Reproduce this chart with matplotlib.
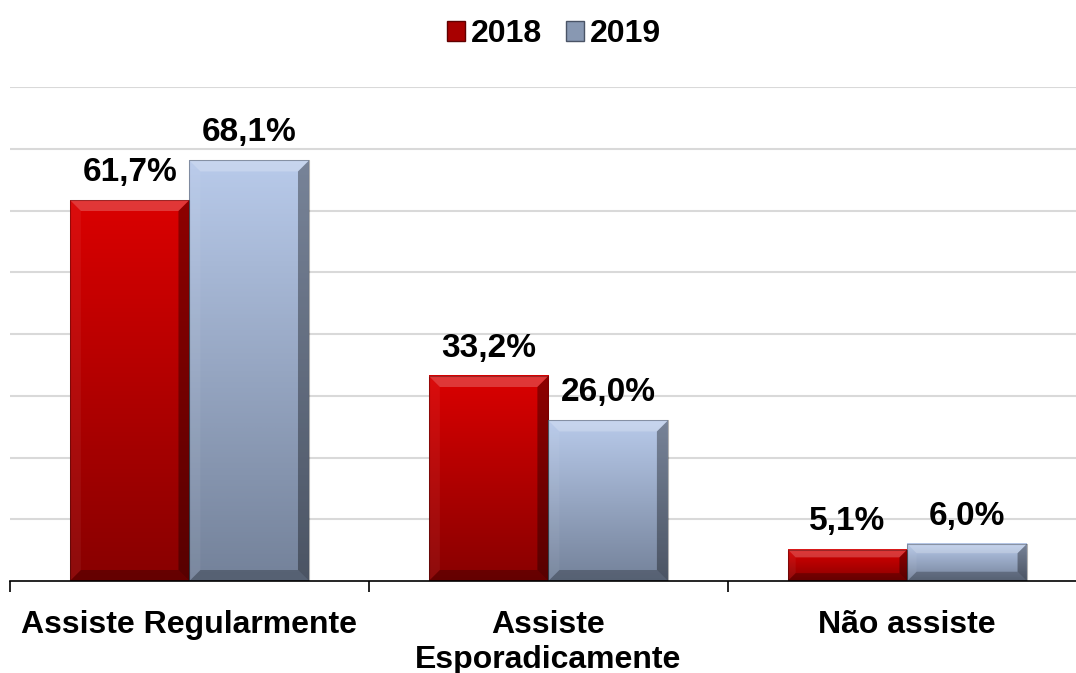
import matplotlib.pyplot as plt
import numpy as np
from matplotlib.colors import LinearSegmentedColormap
from matplotlib.patches import Polygon, Patch

plt.rcParams['font.family'] = ['Liberation Sans', 'DejaVu Sans']

categories = ['Assiste Regularmente', 'Assiste\nEsporadicamente', 'Não assiste']
series = ['2018', '2019']
v2018 = [61.7, 33.2, 5.1]
v2019 = [68.1, 26.0, 6.0]
labels2018 = ['61,7%', '33,2%', '5,1%']
labels2019 = ['68,1%', '26,0%', '6,0%']

# top / bottom colours of each series' gradient
colors = {'2018': ('#da0000', '#880000'), '2019': ('#b8caea', '#74829a')}

fig = plt.figure(figsize=(10.76, 6.73), dpi=100)
ax = fig.add_axes([10 / 1076, 1 - 581 / 673, 1066 / 1076, 494 / 673])
XLIM = (-0.5, 2.47)

w = 0.333
px_x = 1066 / (XLIM[1] - XLIM[0])   # pixels per x unit
px_y = 494 / 80                     # pixels per y unit


def bevel_bar(x0, h, c_top, c_bot):
    x1 = x0 + w
    cmap = LinearSegmentedColormap.from_list('g', [c_bot, c_top])
    grad = np.linspace(0, 1, 100).reshape(-1, 1)
    ax.imshow(grad, cmap=cmap, aspect='auto', origin='lower',
              extent=(x0, x1, 0, h), zorder=2, interpolation='bicubic')
    b = min(11, h * px_y / 4)
    bx = b / px_x
    by = b / px_y
    # top
    ax.add_patch(Polygon([(x0, h), (x1, h), (x1 - bx, h - by), (x0 + bx, h - by)],
                         closed=True, fc='white', alpha=0.22, lw=0, zorder=3))
    # left
    ax.add_patch(Polygon([(x0, 0), (x0, h), (x0 + bx, h - by), (x0 + bx, by)],
                         closed=True, fc='white', alpha=0.05, lw=0, zorder=3))
    # right
    ax.add_patch(Polygon([(x1, 0), (x1, h), (x1 - bx, h - by), (x1 - bx, by)],
                         closed=True, fc='black', alpha=0.35, lw=0, zorder=3))
    # bottom
    ax.add_patch(Polygon([(x0, 0), (x1, 0), (x1 - bx, by), (x0 + bx, by)],
                         closed=True, fc='black', alpha=0.25, lw=0, zorder=3))
    ax.plot([x0, x0, x1, x1], [0, h, h, 0], color='black', alpha=0.3, lw=0.8, zorder=4)


x = np.arange(len(categories))
for i in range(len(categories)):
    bevel_bar(x[i] - w, v2018[i], *colors['2018'])
    bevel_bar(x[i], v2019[i], *colors['2019'])
    ax.text(x[i] - w / 2, v2018[i] + 2.0, labels2018[i], ha='center', va='bottom',
            fontsize=24, fontweight='bold', zorder=5)
    ax.text(x[i] + w / 2, v2019[i] + 2.0, labels2019[i], ha='center', va='bottom',
            fontsize=24, fontweight='bold', zorder=5)

ax.set_yticks(np.arange(10, 81, 10))
ax.yaxis.grid(True, color='#d9d9d9', lw=1.5)
ax.set_axisbelow(True)
ax.tick_params(axis='y', left=False, labelleft=False)
for s in ['left', 'right', 'top']:
    ax.spines[s].set_visible(False)
ax.spines['bottom'].set_color('black')
ax.spines['bottom'].set_linewidth(1.2)

ax.set_xticks([-0.5, 0.5, 1.5, 2.5])
ax.set_xticklabels([])
ax.tick_params(axis='x', length=8, width=1.2, color='black')
ax.set_xticks(x, minor=True)
ax.set_xticklabels(categories, minor=True, fontsize=23, fontweight='bold',
                   linespacing=1.2, va='top')
ax.tick_params(axis='x', which='minor', length=0, pad=21)

ax.set_xlim(*XLIM)
ax.set_ylim(0, 80)

handles = [Patch(facecolor='#a80000', edgecolor='#600000'),
           Patch(facecolor='#8898b2', edgecolor='#4a5466')]
fig.legend(handles, series, loc='upper center', bbox_to_anchor=(0.515, 0.995),
           ncol=2, frameon=False, prop={'size': 23, 'weight': 'bold'},
           handlelength=0.55, handleheight=0.55, handletextpad=0.2,
           columnspacing=0.75, borderaxespad=0.1)

fig.savefig('out.png', dpi=100)
